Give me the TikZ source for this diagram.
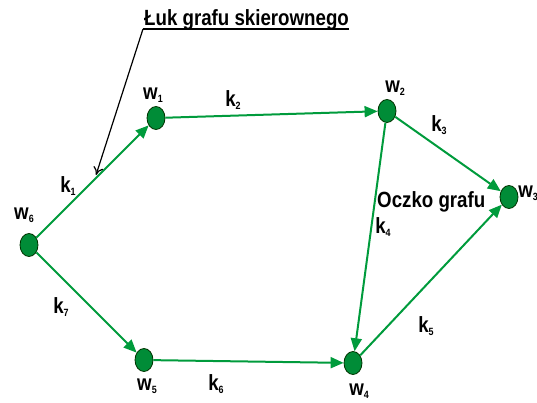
\documentclass[tikz,border=0pt]{standalone}
\usepackage{fontspec}
\setmainfont{Liberation Sans}[FakeStretch=0.85]
\usetikzlibrary{arrows.meta,shapes.geometric}
\definecolor{edgegreen}{RGB}{0,155,60}
\definecolor{nodegreen}{RGB}{0,140,55}
\newcommand\subx[1]{\raisebox{-3.5pt}{\fontsize{10.5}{10.5}\selectfont #1}}
\tikzset{
  vert/.style={ellipse,draw=black!80!green,line width=0.8pt,fill=nodegreen,minimum width=18pt,minimum height=23pt,inner sep=0pt},
  arc/.style={draw=edgegreen,line width=2pt,-{Triangle[length=13pt,width=11pt]}},
  lab/.style={font=\fontsize{22}{24}\selectfont\bfseries,inner sep=0pt},
}
\begin{document}
\begin{tikzpicture}[x=1pt,y=-1pt]
\useasboundingbox (0,0) rectangle (537,402);
\node[vert] (w6) at (29,245) {};
\node[vert] (w1) at (156,118) {};
\node[vert] (w2) at (387,111) {};
\node[vert] (w3) at (509,197) {};
\node[vert] (w5) at (144,360) {};
\node[vert] (w4) at (353,363) {};
\draw[arc] (w6) -- (w1);
\draw[arc] (w1) -- (w2);
\draw[arc] (w2) -- (w3);
\draw[arc] (w2) -- (w4);
\draw[arc] (w6) -- (w5);
\draw[arc] (w5) -- (w4);
\draw[arc] (w4) -- (w3);
% labels
\node[lab] (lw6) at (24,215) {w\subx{6}};
\node[lab] (lw1) at (153,95) {w\subx{1}};
\node[lab] (lw2) at (395,88) {w\subx{2}};
\node[lab] (lw3) at (528,193) {w\subx{3}};
\node[lab] (lw5) at (147,386) {w\subx{5}};
\node[lab] (lw4) at (359,391) {w\subx{4}};
\node[lab] (lk1) at (68,186) {k\subx{1}};
\node[lab] (lk2) at (233,100) {k\subx{2}};
\node[lab] (lk3) at (439,125) {k\subx{3}};
\node[lab] (lk4) at (383,227) {k\subx{4}};
\node[lab] (lk5) at (426,326) {k\subx{5}};
\node[lab] (lk6) at (216,384) {k\subx{6}};
\node[lab] (lk7) at (61,307) {k\subx{7}};
\node[lab,anchor=base west] (oczko) at (377,207) {Oczko grafu};
\node[lab,anchor=base west] (luk) at (144,25) {Łuk grafu skierownego};
% callout
\coordinate (c1) at (143,29);
\coordinate (c2) at (349,29);
\coordinate (c3) at (96,175);
\draw[black,line width=1.5pt] (c2) -- (c1);
\draw[black,line width=1.2pt,-{To[length=8pt,width=10pt]}] (c1) -- (c3);
\end{tikzpicture}
\end{document}
